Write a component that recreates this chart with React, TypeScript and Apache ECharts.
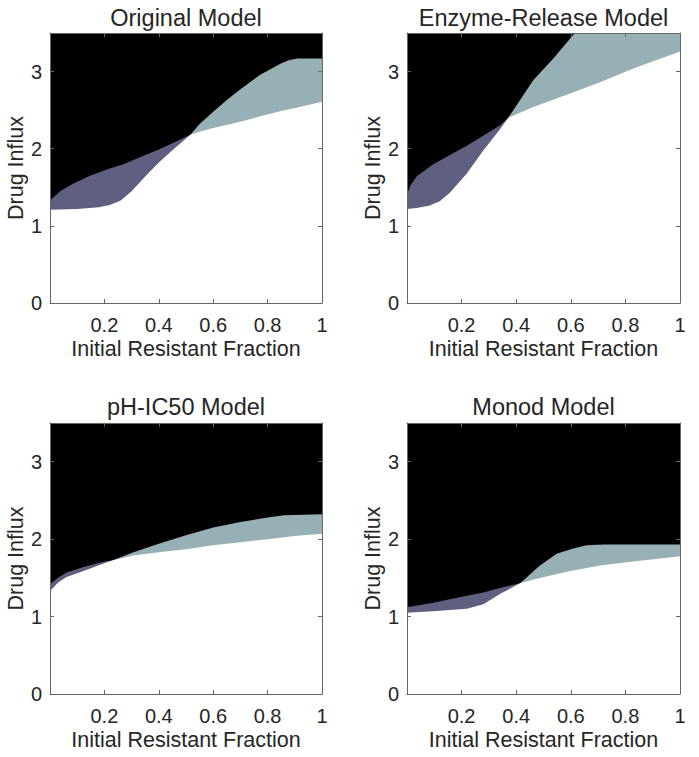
import React, { useEffect, useRef } from "react";
import * as echarts from "echarts";

const titles = ["Original Model", "Enzyme-Release Model", "pH-IC50 Model", "Monod Model"];
const xAxisName = "Initial Resistant Fraction";
const yAxisName = "Drug Influx";

// Original Model
const origUpperX = [0, 0.037, 0.086, 0.147, 0.209, 0.27, 0.35, 0.4, 0.45, 0.516, 0.55, 0.6, 0.65, 0.7, 0.773, 0.847, 0.88, 0.91, 1];
const origUpperY = [1.33, 1.45, 1.55, 1.65, 1.73, 1.8, 1.92, 1.99, 2.07, 2.18, 2.32, 2.48, 2.63, 2.77, 2.96, 3.1, 3.15, 3.17, 3.17];
const origLowerX = [0, 0.1, 0.18, 0.22, 0.26, 0.3, 0.35, 0.4, 0.45, 0.516, 0.55, 0.6, 0.7, 0.773, 0.85, 0.93, 1];
const origLowerY = [1.21, 1.22, 1.24, 1.27, 1.33, 1.45, 1.64, 1.82, 1.98, 2.18, 2.22, 2.27, 2.35, 2.42, 2.49, 2.55, 2.61];

// Enzyme-Release Model
const enzUpperX = [0, 0.012, 0.035, 0.096, 0.157, 0.219, 0.28, 0.34, 0.371, 0.463, 0.536, 0.615, 1];
const enzUpperY = [1.4, 1.52, 1.64, 1.8, 1.92, 2.04, 2.17, 2.3, 2.4, 2.89, 3.17, 3.5, 3.5];
const enzLowerX = [0, 0.035, 0.08, 0.12, 0.157, 0.219, 0.28, 0.34, 0.371, 0.463, 0.585, 0.707, 0.829, 1];
const enzLowerY = [1.22, 1.23, 1.26, 1.32, 1.43, 1.68, 1.98, 2.25, 2.4, 2.54, 2.7, 2.86, 3.04, 3.26];

// pH-IC50 Model
const phUpperX = [0, 0.03, 0.061, 0.123, 0.2, 0.225, 0.307, 0.4, 0.5, 0.6, 0.7, 0.8, 0.86, 1];
const phUpperY = [1.42, 1.5, 1.57, 1.64, 1.71, 1.72, 1.83, 1.94, 2.05, 2.15, 2.22, 2.28, 2.31, 2.32];
const phLowerX = [0, 0.03, 0.061, 0.123, 0.2, 0.225, 0.307, 0.4, 0.5, 0.6, 0.7, 0.8, 0.9, 1];
const phLowerY = [1.33, 1.44, 1.51, 1.59, 1.69, 1.72, 1.79, 1.83, 1.87, 1.92, 1.96, 2.0, 2.04, 2.07];

// Monod Model
const monUpperX = [0, 0.096, 0.219, 0.28, 0.34, 0.414, 0.487, 0.548, 0.609, 0.658, 0.72, 1];
const monUpperY = [1.12, 1.18, 1.27, 1.31, 1.37, 1.43, 1.66, 1.81, 1.88, 1.92, 1.93, 1.93];
const monLowerX = [0, 0.096, 0.219, 0.28, 0.34, 0.414, 0.463, 0.585, 0.707, 0.829, 1];
const monLowerY = [1.05, 1.07, 1.1, 1.16, 1.29, 1.43, 1.48, 1.58, 1.66, 1.71, 1.78];

const crossX = [0.516, 0.371, 0.225, 0.414];

const upperXs = [origUpperX, enzUpperX, phUpperX, monUpperX];
const upperYs = [origUpperY, enzUpperY, phUpperY, monUpperY];
const lowerXs = [origLowerX, enzLowerX, phLowerX, monLowerX];
const lowerYs = [origLowerY, enzLowerY, phLowerY, monLowerY];

const FONT = "'Liberation Sans', Arial, Helvetica, sans-serif";
const TEXT = "#262626";
const AXIS = "#666666";
const PURPLE = "#5f607f";
const TEAL = "#97b0b5";

const grids = [
  { left: 50, top: 33, width: 272, height: 270 },
  { left: 407, top: 33, width: 273, height: 270 },
  { left: 50, top: 423, width: 272, height: 271 },
  { left: 407, top: 423, width: 273, height: 271 },
];
const titlePos = [
  [186, 18],
  [543.5, 18],
  [186, 407],
  [543.5, 407],
];

export default function App() {
  const ref = useRef<HTMLDivElement>(null);
  useEffect(() => {
    if (!ref.current) return;
    const chart = echarts.init(ref.current, undefined, { renderer: "svg" });
    const xAxes: any[] = [];
    const yAxes: any[] = [];
    const series: any[] = [];
    const lineCommon = {
      axisLine: { show: true, onZero: false, lineStyle: { color: AXIS, width: 1 } },
      axisTick: { show: true, inside: true, length: 4, lineStyle: { color: AXIS, width: 1 } },
      splitLine: { show: false },
      z: 5,
    };
    grids.forEach((g, i) => {
      xAxes.push({
        ...lineCommon,
        type: "value",
        gridIndex: i,
        position: "bottom",
        min: 0,
        max: 1,
        interval: 0.2,
        axisLabel: { showMinLabel: false, margin: 12, fontSize: 20, color: TEXT, fontFamily: FONT },
        name: xAxisName,
        nameLocation: "middle",
        nameGap: 35,
        nameTextStyle: { fontSize: 21.5, color: TEXT, fontFamily: FONT },
      });
      xAxes.push({
        ...lineCommon,
        type: "value",
        gridIndex: i,
        position: "top",
        min: 0,
        max: 1,
        interval: 0.2,
        axisLabel: { show: false },
      });
      yAxes.push({
        ...lineCommon,
        type: "value",
        gridIndex: i,
        position: "left",
        min: 0,
        max: 3.5,
        interval: 1,
        axisLabel: { showMaxLabel: false, margin: 8, fontSize: 20, color: TEXT, fontFamily: FONT },
        name: yAxisName,
        nameLocation: "middle",
        nameGap: 23,
        nameTextStyle: { fontSize: 21.5, color: TEXT, fontFamily: FONT },
      });
      yAxes.push({
        ...lineCommon,
        type: "value",
        gridIndex: i,
        position: "right",
        min: 0,
        max: 3.5,
        interval: 1,
        axisLabel: { show: false },
      });
      const up = upperXs[i].map((x, k) => [x, upperYs[i][k]]);
      const lo = lowerXs[i].map((x, k) => [x, lowerYs[i][k]]);
      const left = up.filter((p) => p[0] <= crossX[i]);
      const right = up.filter((p) => p[0] >= crossX[i]);
      const base = {
        type: "line",
        xAxisIndex: 2 * i,
        yAxisIndex: 2 * i,
        symbol: "none",
        showSymbol: false,
        silent: true,
        lineStyle: { width: 0 },
        z: 2,
      };
      series.push({ ...base, data: left, areaStyle: { color: PURPLE, opacity: 1, origin: "start" } });
      series.push({ ...base, data: right, areaStyle: { color: TEAL, opacity: 1, origin: "start" } });
      series.push({ ...base, data: lo, z: 3, areaStyle: { color: "#ffffff", opacity: 1, origin: "start" } });
    });
    chart.setOption({
      animation: false,
      backgroundColor: "#ffffff",
      grid: grids.map((g) => ({ ...g, show: true, backgroundColor: "#000000", borderWidth: 0, containLabel: false })),
      xAxis: xAxes,
      yAxis: yAxes,
      series,
      graphic: titles.map((t, i) => ({
        type: "text",
        x: titlePos[i][0],
        y: titlePos[i][1],
        style: {
          text: t,
          fontSize: 23.5,
          fontFamily: FONT,
          fill: TEXT,
          align: "center",
          verticalAlign: "middle",
        },
      })),
    });
    return () => chart.dispose();
  }, []);
  return (
    <div
      ref={ref}
      style={{ position: "absolute", left: 0, top: 0, width: 699, height: 757, background: "#fff" }}
    />
  );
}
